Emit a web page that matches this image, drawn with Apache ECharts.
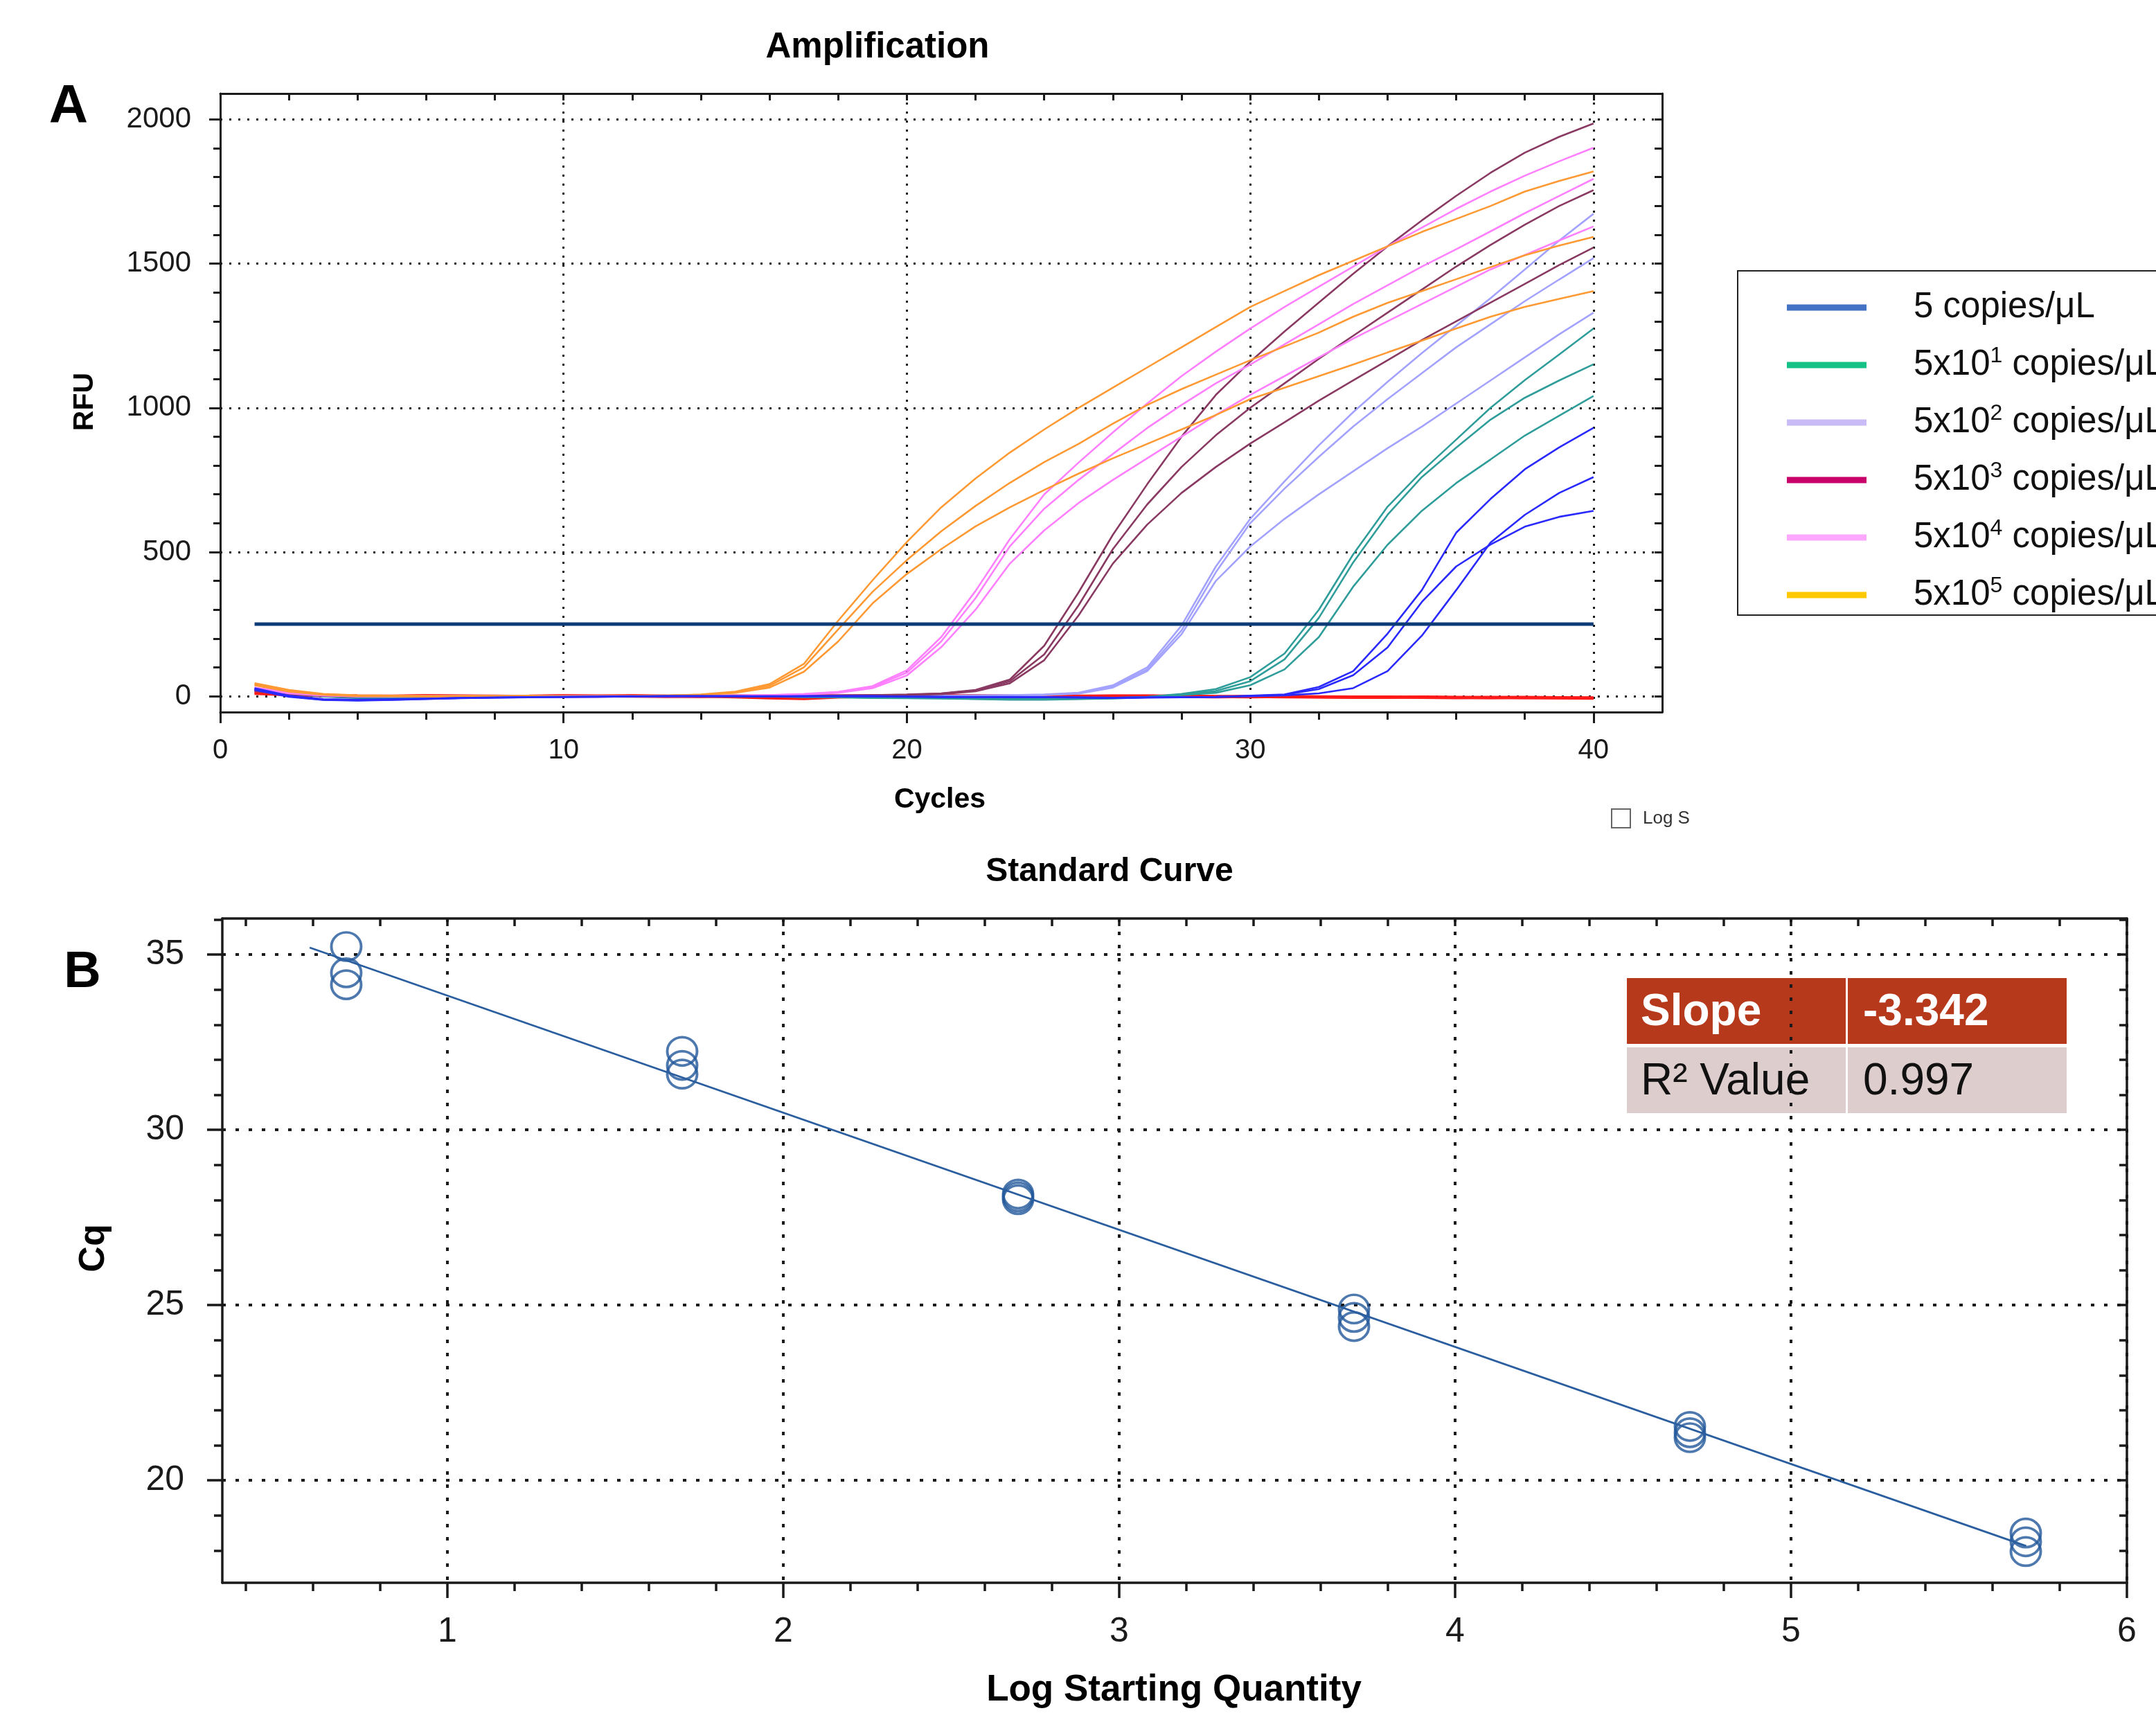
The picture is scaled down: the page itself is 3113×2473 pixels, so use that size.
<!DOCTYPE html>
<html><head><meta charset="utf-8">
<script src="https://cdn.jsdelivr.net/npm/echarts@6/dist/echarts.min.js"></script>
<style>html,body{margin:0;padding:0;background:#fff}#c{width:3113px;height:2473px}</style>
</head><body><div id="c"></div>
<script>
// ---------------- DATA ----------------
const cycles = [1,2,3,4,5,6,7,8,9,10,11,12,13,14,15,16,17,18,19,20,21,22,23,24,25,26,27,28,29,30,31,32,33,34,35,36,37,38,39,40];
const threshold = 250;
const thresholdCycles = [1, 40];

// 5x10^5 copies/uL (orange)
const orange1 = [45,22,8,3,2,1,0,1,2,0,-1,0,2,6,16,42,112,262,402,535,655,755,845,925,1000,1070,1140,1210,1280,1350,1405,1460,1510,1560,1610,1655,1700,1750,1787,1820];
const orange2 = [40,18,6,2,1,0,1,0,-1,1,0,1,3,5,14,36,100,232,362,472,572,660,740,812,875,945,1010,1065,1115,1165,1213,1261,1316,1364,1405,1446,1488,1529,1563,1593];
const orange3 = [38,16,5,1,0,-1,0,1,0,-1,0,1,2,4,12,30,85,190,322,424,510,589,655,715,772,825,875,925,975,1030,1070,1110,1150,1192,1233,1275,1316,1350,1378,1405];
// 5x10^4 (pink)
const pink1 = [30,14,4,1,0,1,-1,0,1,0,-1,0,1,0,2,4,8,15,35,90,205,365,545,700,810,915,1015,1110,1195,1275,1350,1420,1490,1560,1625,1690,1750,1805,1855,1902];
const pink2 = [28,12,3,0,1,0,0,-1,0,1,0,-1,0,1,2,4,7,14,32,82,190,340,520,650,750,840,930,1010,1085,1150,1220,1290,1360,1425,1490,1550,1612,1675,1735,1794];
const pink3 = [25,10,2,0,-1,0,1,0,-1,0,1,0,0,1,1,3,6,12,28,72,170,300,460,575,670,750,825,900,975,1045,1110,1175,1240,1300,1360,1420,1480,1530,1580,1629];
// 5x10^3 (maroon)
const maroon1 = [20,8,1,0,1,-1,0,2,0,-1,0,1,0,-1,1,2,1,2,4,6,10,22,58,175,360,560,735,900,1045,1160,1265,1365,1465,1560,1650,1735,1815,1885,1940,1986];
const maroon2 = [22,9,2,0,-1,0,1,0,1,0,-1,0,1,0,0,1,2,3,4,5,9,20,52,145,315,510,665,795,905,1000,1085,1170,1250,1330,1410,1490,1565,1635,1700,1755];
const maroon3 = [18,7,1,-1,0,1,0,-1,0,1,0,0,-1,1,0,1,1,2,3,4,7,17,45,125,280,460,595,705,795,876,950,1025,1095,1165,1235,1300,1365,1430,1495,1556];
// 5x10^2 (lavender)
const lavender1 = [24,10,2,-2,-3,-1,0,1,0,-1,0,1,-1,0,1,0,-1,0,1,2,2,3,4,6,12,38,100,245,450,615,745,870,985,1090,1190,1285,1380,1480,1580,1673];
const lavender2 = [22,8,1,-3,-2,0,1,0,-1,0,1,0,0,-1,0,1,0,1,0,1,2,2,3,5,10,34,93,228,430,600,720,830,935,1030,1120,1210,1290,1370,1445,1519];
const lavender3 = [20,7,0,-4,-3,-1,0,1,0,0,-1,1,0,0,1,0,1,0,1,1,2,2,3,4,9,30,87,215,400,519,615,700,780,860,935,1015,1095,1175,1255,1330];
// 5x10^1 (teal)
const teal1 = [26,10,1,-4,-5,-3,-1,0,1,0,-1,0,1,0,-1,0,-2,-3,-4,-5,-6,-8,-9,-10,-8,-6,-2,8,25,66,148,300,492,657,780,890,1000,1096,1185,1275];
const teal2 = [24,9,0,-5,-6,-3,-1,0,0,1,0,-1,0,1,0,-1,-2,-4,-5,-6,-7,-9,-10,-11,-9,-7,-3,6,18,52,128,272,464,629,760,862,959,1035,1095,1151];
const teal3 = [22,8,-1,-6,-6,-4,-2,0,1,0,-1,0,0,1,-1,-1,-3,-4,-6,-7,-8,-10,-12,-12,-10,-8,-4,4,12,38,93,205,380,525,643,739,821,904,973,1041];
// 5 copies/uL (blue)
const blue1 = [28,2,-10,-12,-10,-8,-6,-4,-3,-2,-2,-1,0,1,0,-1,0,1,0,-1,-2,-3,-2,-3,-4,-5,-4,-3,-2,2,6,32,87,217,368,567,684,787,863,931];
const blue2 = [25,0,-12,-14,-12,-9,-6,-5,-3,-2,-1,0,1,0,-1,0,1,0,-1,-2,-3,-2,-3,-4,-4,-5,-4,-3,-2,1,5,25,73,169,327,450,526,588,622,643];
const blue3 = [22,-2,-13,-15,-13,-10,-7,-5,-4,-3,-2,-1,0,0,1,0,-1,0,1,-1,-2,-3,-4,-3,-5,-6,-5,-4,-3,0,3,10,28,87,210,368,533,629,705,760];
// negative control (red)
const red1 = [12,6,3,1,0,2,1,0,-1,1,0,2,0,-1,1,0,2,1,0,1,2,1,0,-1,0,1,0,-1,-2,-1,-2,-3,-4,-4,-3,-4,-5,-4,-5,-6];
const red2 = [10,5,2,0,-1,1,0,-1,0,2,1,0,-1,0,-2,-6,-8,-3,0,1,0,2,1,0,-1,0,1,0,-1,-2,-1,-2,-3,-3,-4,-5,-4,-5,-6,-7];

const ampXLabels = [0,10,20,30,40];
const ampXTicks = [0,2,4,6,8,10,12,14,16,18,20,22,24,26,28,30,32,34,36,38,40];
const ampYLabels = [0,500,1000,1500,2000];
const ampYTicks = [0,100,200,300,400,500,600,700,800,900,1000,1100,1200,1300,1400,1500,1600,1700,1800,1900,2000];

// Standard curve
const stdLogQty = [0.699,0.699,0.699,1.699,1.699,1.699,2.699,2.699,2.699,3.699,3.699,3.699,4.699,4.699,4.699,5.699,5.699,5.699];
const stdCq = [35.23,34.48,34.14,32.24,31.84,31.59,28.17,28.09,28.01,24.89,24.65,24.39,21.54,21.36,21.22,18.50,18.25,17.97];
const fitLogQty = [0.59, 5.70];
const fitCq = [35.20, 18.13];
const stdXLabels = [1,2,3,4,5,6];
const stdXTicks = [0.4,0.6,0.8,1,1.2,1.4,1.6,1.8,2,2.2,2.4,2.6,2.8,3,3.2,3.4,3.6,3.8,4,4.2,4.4,4.6,4.8,5,5.2,5.4,5.6,5.8,6];
const stdYLabels = [20,25,30,35];
const stdYTicks = [18,19,20,21,22,23,24,25,26,27,28,29,30,31,32,33,34,35,36];

const slopeText = '-3.342';
const r2Text = '0.997';

const legendMantissa = ['5','5x10','5x10','5x10','5x10','5x10'];
const legendExp = ['','1','2','3','4','5'];
const legendUnit = ' copies/μL';

// ---------------- STYLE / BUILD ----------------
const FONT = 'Liberation Sans, Arial, sans-serif';
const INK = '#1a1a1a';
const chart = echarts.init(document.getElementById('c'), null, {renderer:'canvas', width:3113, height:2473});

const ampGroups = [
  {curves:[red1, red2], color:'#ff1a1a', w:4.5},
  {curves:[lavender1, lavender2, lavender3], color:'#a3a3ff', w:2.6},
  {curves:[teal1, teal2, teal3], color:'#2f9d9a', w:2.6},
  {curves:[maroon1, maroon2, maroon3], color:'#8a3a62', w:2.6},
  {curves:[pink1, pink2, pink3], color:'#ff80ff', w:2.6},
  {curves:[orange1, orange2, orange3], color:'#ff9933', w:2.6},
  {curves:[blue1, blue2, blue3], color:'#2a2aff', w:2.6}
];
const legendColors = ['#4472c4','#14c285','#c8bbf6','#c8006a','#ffa8ff','#ffc800'];

function lineStyleOf(w){ return {color:INK, width:w}; }
function axisSet(grid, min, max, labels, ticks, pos, opts){
  const lw = opts.lw;
  const main = {
    gridIndex:grid, type:'value', min:min, max:max, position:pos[0],
    axisLine:{show:true, onZero:false, lineStyle:lineStyleOf(lw)},
    axisTick:{show:true, inside:false, length:opts.minorLen, customValues:ticks, lineStyle:lineStyleOf(lw)},
    axisLabel:{show:true, customValues:labels, margin:opts.margin, fontSize:opts.fs, color:INK, fontFamily:FONT,
      formatter: v => String(v)},
    splitLine:{show:false}
  };
  const major = {
    gridIndex:grid, type:'value', min:min, max:max, position:pos[0],
    axisLine:{show:false, onZero:false},
    axisTick:{show:true, inside:false, length:opts.majorLen, customValues:labels, lineStyle:lineStyleOf(lw)},
    axisLabel:{show:false},
    splitLine:{show:true, lineStyle:{type:opts.dash, color:INK, width:opts.dotW}}
  };
  const opp = {
    gridIndex:grid, type:'value', min:min, max:max, position:pos[1],
    axisLine:{show:true, onZero:false, lineStyle:lineStyleOf(lw)},
    axisTick:{show:true, inside:true, length:opts.innerLen, customValues:ticks, lineStyle:lineStyleOf(lw)},
    axisLabel:{show:false},
    splitLine:{show:false}
  };
  return [main, major, opp];
}

const xAxes = [].concat(
  axisSet(0,0,42,ampXLabels,ampXTicks,['bottom','top'],{lw:3,minorLen:11,majorLen:16,innerLen:10,margin:36,fs:40,dash:[3,10],dotW:3}),
  axisSet(1,0.33,6,stdXLabels,stdXTicks,['bottom','top'],{lw:3.5,minorLen:12,majorLen:22,innerLen:11,margin:46,fs:50,dash:[5,14],dotW:4})
);
const yAxes = [].concat(
  axisSet(0,-55,2090,ampYLabels,ampYTicks,['left','right'],{lw:3,minorLen:10,majorLen:16,innerLen:11,margin:42,fs:42,dash:[3,10],dotW:3}),
  axisSet(1,17.08,36.03,stdYLabels,stdYTicks,['left','right'],{lw:3.5,minorLen:12,majorLen:22,innerLen:11,margin:55,fs:50,dash:[5,14],dotW:4})
);

const series = [];
ampGroups.forEach(g => {
  g.curves.forEach(arr => {
    series.push({
      type:'line', xAxisIndex:0, yAxisIndex:0, silent:true, symbol:'none', animation:false,
      lineStyle:{color:g.color, width:g.w}, itemStyle:{color:g.color},
      data: cycles.map((c,i) => [c, arr[i]])
    });
  });
});
series.push({
  type:'line', xAxisIndex:0, yAxisIndex:0, silent:true, symbol:'none', animation:false,
  lineStyle:{color:'#0c3b76', width:5}, z:5,
  data: thresholdCycles.map(c => [c, threshold])
});
const legendNames = legendMantissa.map((m,i) => m + (legendExp[i] ? '^' + legendExp[i] : '') + legendUnit);
legendNames.forEach((n,i) => {
  series.push({type:'line', name:n, xAxisIndex:0, yAxisIndex:0, data:[], symbol:'none',
    itemStyle:{color:legendColors[i]}, lineStyle:{color:legendColors[i]}});
});
series.push({
  type:'line', xAxisIndex:3, yAxisIndex:3, silent:true, symbol:'none', animation:false,
  lineStyle:{color:'#2a5e9f', width:2.8},
  data: fitLogQty.map((x,i) => [x, fitCq[i]])
});
series.push({
  type:'scatter', xAxisIndex:3, yAxisIndex:3, silent:true, animation:false,
  symbol:'circle', symbolSize:[43,41],
  itemStyle:{color:'rgba(255,255,255,0)', borderColor:'#22579a', borderWidth:3.8},
  data: stdLogQty.map((x,i) => [x, stdCq[i]])
});

function txt(x, y, text, font, extra){
  return Object.assign({type:'text', x:x, y:y, silent:true,
    style:Object.assign({text:text, font:font, fill:'#000', align:'center', verticalAlign:'middle',
      textAlign:'center', textVerticalAlign:'middle'}, extra && extra.style || {})},
    extra && extra.el || {});
}

const graphics = [
  txt(1267, 69, 'Amplification', 'bold 51px ' + FONT),
  txt(99, 155, 'A', 'bold 78px ' + FONT),
  txt(123, 580, 'RFU', 'bold 41px ' + FONT, {el:{rotation:Math.PI/2}}),
  txt(1357, 1155, 'Cycles', 'bold 41px ' + FONT),
  txt(1602, 1259, 'Standard Curve', 'bold 48px ' + FONT),
  txt(119, 1405, 'B', 'bold 74px ' + FONT),
  txt(136, 1802, 'Cq', 'bold 52px ' + FONT, {el:{rotation:Math.PI/2}}),
  txt(1695, 2440, 'Log Starting Quantity', 'bold 53px ' + FONT),
  {type:'rect', silent:true, shape:{x:2327, y:1168, width:27, height:27}, style:{fill:'#fff', stroke:'#666', lineWidth:2}},
  txt(2372, 1182, 'Log S', '26px ' + FONT, {style:{align:'left', textAlign:'left', fill:'#333'}}),
  {type:'rect', silent:true, shape:{x:2349, y:1412, width:316, height:95}, style:{fill:'#b5391a'}},
  {type:'rect', silent:true, shape:{x:2668, y:1412, width:316, height:95}, style:{fill:'#b5391a'}},
  {type:'rect', silent:true, shape:{x:2349, y:1512, width:316, height:95}, style:{fill:'#ddcdcd'}},
  {type:'rect', silent:true, shape:{x:2668, y:1512, width:316, height:95}, style:{fill:'#ddcdcd'}},
  txt(2369, 1462, 'Slope', 'bold 64px ' + FONT, {style:{fill:'#fff', align:'left', textAlign:'left'}}),
  txt(2690, 1462, slopeText, 'bold 64px ' + FONT, {style:{fill:'#fff', align:'left', textAlign:'left'}}),
  txt(2369, 1562, 'R² Value', '64px ' + FONT, {style:{fill:'#111', align:'left', textAlign:'left'}}),
  txt(2690, 1562, r2Text, '64px ' + FONT, {style:{fill:'#111', align:'left', textAlign:'left'}})
];

const option = {
  backgroundColor:'#fff',
  animation:false,
  grid:[
    {left:318, top:135, width:2082, height:893, show:false, containLabel:false, outerBoundsMode:'none'},
    {left:321, top:1326, width:2750, height:959, show:false, containLabel:false, outerBoundsMode:'none'}
  ],
  xAxis:xAxes,
  yAxis:yAxes,
  legend:{
    data:legendNames, orient:'vertical', left:2509, top:391,
    padding:[24, 80, 0, 71], itemGap:25, itemWidth:115, itemHeight:9, icon:'rect',
    borderColor:'#222', borderWidth:2, selectedMode:false,
    formatter: function(name){
      const i = legendNames.indexOf(name);
      return '{n|' + legendMantissa[i] + '}' + (legendExp[i] ? '{s|' + legendExp[i] + '}' : '') + '{n|' + legendUnit + '}';
    },
    textStyle:{fontFamily:FONT, fontSize:51, color:'#111', padding:[0,0,0,63], lineHeight:58,
      rich:{
        n:{fontFamily:FONT, fontSize:51, color:'#111', lineHeight:58},
        s:{fontFamily:FONT, fontSize:32, color:'#111', verticalAlign:'top'}
      }}
  },
  series:series,
  graphic:graphics
};
chart.setOption(option);
</script></body></html>
